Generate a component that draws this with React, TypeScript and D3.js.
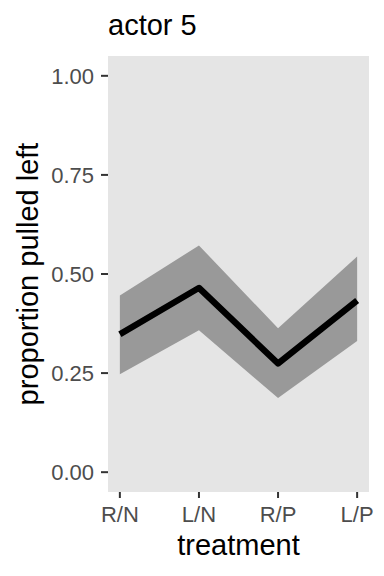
import React from "react";
import * as d3 from "d3";

const treatments = ["R/N", "L/N", "R/P", "L/P"];
const meanValues = [0.348, 0.465, 0.274, 0.433];
const lowerValues = [0.247, 0.358, 0.187, 0.331];
const upperValues = [0.446, 0.572, 0.363, 0.544];
const yTicks = [0, 0.25, 0.5, 0.75, 1];
const titleText = "actor 5";
const xTitle = "treatment";
const yTitle = "proportion pulled left";

const W = 384;
const H = 576;
const panel = { left: 108, right: 369, top: 56, bottom: 492 };
const FONT = "'Liberation Sans', Arial, Helvetica, sans-serif";

export default function App() {
  const n = treatments.length;
  const xExp = (n - 1) * 0.05;
  const x = d3
    .scaleLinear()
    .domain([1 - xExp, n + xExp])
    .range([panel.left, panel.right]);
  const y = d3
    .scaleLinear()
    .domain([-0.05, 1.05])
    .range([panel.bottom, panel.top]);

  const data = treatments.map((t, i) => ({
    i: i + 1,
    t,
    m: meanValues[i],
    lo: lowerValues[i],
    hi: upperValues[i],
  }));

  const area = d3
    .area<any>()
    .x((d) => x(d.i))
    .y0((d) => y(d.lo))
    .y1((d) => y(d.hi));
  const line = d3
    .line<any>()
    .x((d) => x(d.i))
    .y((d) => y(d.m));

  return (
    <svg
      width={W}
      height={H}
      style={{ position: "absolute", left: 0, top: 0, display: "block" }}
      fontFamily={FONT}
    >
      <rect x={0} y={0} width={W} height={H} fill="#ffffff" />
      <rect
        x={panel.left}
        y={panel.top}
        width={panel.right - panel.left}
        height={panel.bottom - panel.top}
        fill="#e5e5e5"
      />
      <path d={area(data) || ""} fill="#999999" />
      <path
        d={line(data) || ""}
        fill="none"
        stroke="#000000"
        strokeWidth={6.3}
        strokeLinejoin="round"
        strokeLinecap="butt"
      />
      {yTicks.map((v) => (
        <g key={v}>
          <line
            x1={panel.left - 7}
            x2={panel.left}
            y1={y(v)}
            y2={y(v)}
            stroke="#333333"
            strokeWidth={2}
          />
          <text
            x={panel.left - 14}
            y={y(v)}
            dy="0.36em"
            textAnchor="end"
            fontSize={22}
            fill="#4d4d4d"
          >
            {d3.format(".2f")(v)}
          </text>
        </g>
      ))}
      {data.map((d) => (
        <g key={d.t}>
          <line
            x1={x(d.i)}
            x2={x(d.i)}
            y1={panel.bottom}
            y2={panel.bottom + 6}
            stroke="#333333"
            strokeWidth={2}
          />
          <text
            x={x(d.i)}
            y={522}
            textAnchor="middle"
            fontSize={22}
            fill="#4d4d4d"
          >
            {d.t}
          </text>
        </g>
      ))}
      <text
        x={(panel.left + panel.right) / 2}
        y={555}
        textAnchor="middle"
        fontSize={29}
        fill="#000000"
      >
        {xTitle}
      </text>
      <text
        transform={`translate(38, ${(panel.top + panel.bottom) / 2}) rotate(-90)`}
        textAnchor="middle"
        fontSize={29}
        fill="#000000"
      >
        {yTitle}
      </text>
      <text x={panel.left} y={35} fontSize={29} fill="#000000">
        {titleText}
      </text>
    </svg>
  );
}
